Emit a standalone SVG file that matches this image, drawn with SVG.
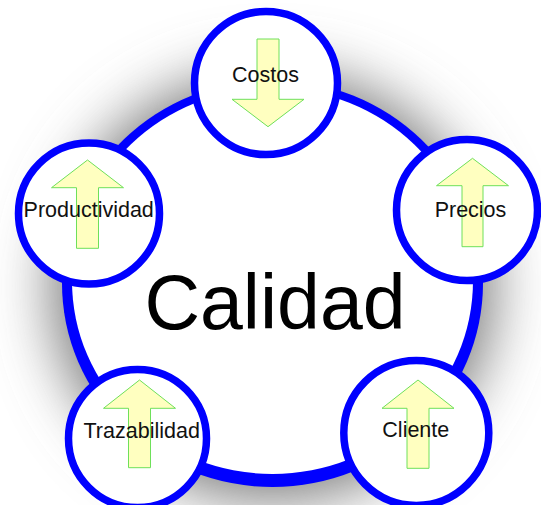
<svg xmlns="http://www.w3.org/2000/svg" width="541" height="505" viewBox="0 0 541 505">
<defs>
<filter id="blur" x="-30%" y="-30%" width="160%" height="160%"><feGaussianBlur stdDeviation="30"/></filter>
<style>
.node{fill:#fff;stroke:#0000ff;stroke-width:7.5}
.arrow{fill:#ffffc0;stroke:#6ee05a;stroke-width:1}
.lbl{font-family:"Liberation Sans",Arial,sans-serif;font-size:21.5px;fill:#111;text-anchor:middle}
.big{font-family:"Liberation Sans",Arial,sans-serif;font-size:77px;fill:#000;text-anchor:middle}
</style>
</defs>
<rect width="541" height="505" fill="#fff"/>
<g id="shadow"><ellipse cx="272.5" cy="286" rx="220" ry="213" fill="#777" filter="url(#blur)"/></g>
<g id="calidad">
<ellipse cx="272.5" cy="283.5" rx="210.5" ry="203.5" fill="#0000ff"/>
<ellipse cx="272.5" cy="281" rx="200.5" ry="193" fill="#fff"/>
<text class="big" x="275" y="329">Calidad</text>
</g>
<g id="costos">
<circle class="node" cx="266" cy="83" r="71.5"/>
<polygon class="arrow" points="257,39 279,39 279,99.3 304,99.3 268,126.7 232,99.3 257,99.3"/>
<text class="lbl" x="265.5" y="82.3">Costos</text>
</g>
<g id="productividad">
<circle class="node" cx="89" cy="213.5" r="70.5"/>
<polygon class="arrow" points="87.5,160 123.5,187.7 98.5,187.7 98.5,248.3 76.5,248.3 76.5,187.7 51.5,187.7"/>
<text class="lbl" x="88.7" y="217.3">Productividad</text>
</g>
<g id="precios">
<circle class="node" cx="467" cy="210" r="70.5"/>
<polygon class="arrow" points="472.5,158.3 508.5,185.7 483,185.7 483,246.7 462,246.7 462,185.7 436.5,185.7"/>
<text class="lbl" x="470.5" y="216.7">Precios</text>
</g>
<g id="trazabilidad">
<circle class="node" cx="137.5" cy="438.5" r="69"/>
<polygon class="arrow" points="139.5,380 175.5,408.3 150.5,408.3 150.5,467.7 128.5,467.7 128.5,408.3 103.5,408.3"/>
<text class="lbl" x="141.7" y="438.3">Trazabilidad</text>
</g>
<g id="cliente">
<circle class="node" cx="416.3" cy="433" r="72.5"/>
<polygon class="arrow" points="418,380 454,408.3 429,408.3 429,468.3 407,468.3 407,408.3 382,408.3"/>
<text class="lbl" x="415.8" y="436.7">Cliente</text>
</g>
<g id="connectors"/>
</svg>
